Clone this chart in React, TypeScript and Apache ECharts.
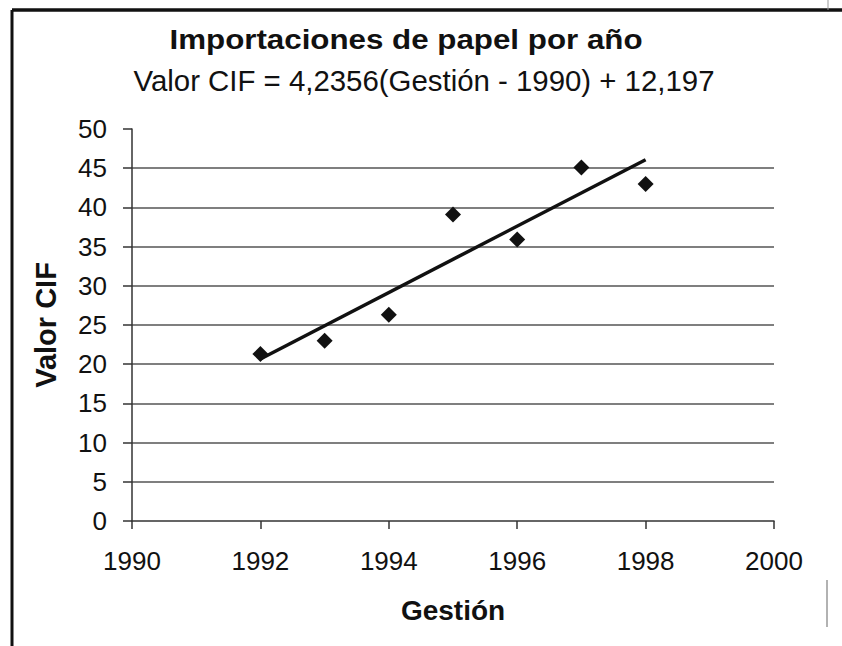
import React, { useEffect, useRef } from "react";
import * as echarts from "echarts";

const titleText = "Importaciones de papel por año";
const subtitleText = "Valor CIF = 4,2356(Gestión - 1990) + 12,197";
const xAxisName = "Gestión";
const yAxisName = "Valor CIF";

const years = [1992, 1993, 1994, 1995, 1996, 1997, 1998];
const valorCIF = [21.3, 23.0, 26.3, 39.1, 35.9, 45.1, 43.0];

const trendSlope = 4.2356;
const trendIntercept = 12.197;
const trendBaseYear = 1990;
const trendYears = [1992, 1998];

const xRange = [1990, 2000];
const xStep = 2;
const yRange = [0, 50];
const yStep = 5;

const FONT = "'Liberation Sans', Arial, sans-serif";

export default function App() {
  const ref = useRef<HTMLDivElement>(null);
  useEffect(() => {
    if (!ref.current) return;
    const chart = echarts.init(ref.current, null, { renderer: "svg" });
    const points = years.map((y, i) => [y, valorCIF[i]]);
    const trend = trendYears.map((y) => [y, trendSlope * (y - trendBaseYear) + trendIntercept]);
    chart.setOption({
      animation: false,
      backgroundColor: "#ffffff",
      textStyle: { fontFamily: FONT },
      grid: { left: 132, right: 68, top: 129, bottom: 125, containLabel: false },
      graphic: [
        { type: "line", shape: { x1: 12, y1: 10, x2: 12, y2: 646 }, style: { stroke: "#111", lineWidth: 3 } },
        { type: "line", shape: { x1: 12, y1: 10, x2: 842, y2: 10 }, style: { stroke: "#111", lineWidth: 3.5 } },
        { type: "line", shape: { x1: 828, y1: 0, x2: 828, y2: 10 }, style: { stroke: "#999", lineWidth: 1 } },
        { type: "line", shape: { x1: 827, y1: 580, x2: 827, y2: 627 }, style: { stroke: "#999", lineWidth: 1.5 } },
        {
          type: "text",
          x: 406,
          y: 40,
          scaleX: 1.16,
          style: {
            text: titleText,
            font: `bold 27px ${FONT}`,
            fill: "#111",
            align: "center",
            verticalAlign: "middle",
          },
        },
        {
          type: "text",
          x: 424,
          y: 80,
          scaleX: 0.98,
          style: {
            text: subtitleText,
            font: `30px ${FONT}`,
            fill: "#111",
            align: "center",
            verticalAlign: "middle",
          },
        },
      ],
      xAxis: {
        type: "value",
        min: xRange[0],
        max: xRange[1],
        interval: xStep,
        name: xAxisName,
        nameLocation: "middle",
        nameGap: 75,
        nameTextStyle: { fontSize: 28, fontWeight: "bold", color: "#111", fontFamily: FONT },
        axisLine: { show: true, lineStyle: { color: "#333", width: 1.5 } },
        axisTick: { show: true, inside: false, length: 8, lineStyle: { color: "#333", width: 1.5 } },
        axisLabel: {
          fontSize: 26,
          color: "#111",
          margin: 27,
          fontFamily: FONT,
          formatter: (v: number) => String(v),
        },
        splitLine: { show: false },
      },
      yAxis: {
        type: "value",
        min: yRange[0],
        max: yRange[1],
        interval: yStep,
        name: yAxisName,
        nameLocation: "middle",
        nameGap: 72,
        nameTextStyle: { fontSize: 29, fontWeight: "bold", color: "#111", fontFamily: FONT },
        axisLine: { show: true, lineStyle: { color: "#333", width: 1.5 } },
        axisTick: { show: true, inside: false, length: 9, lineStyle: { color: "#333", width: 1.5 } },
        axisLabel: { fontSize: 26, color: "#111", margin: 25, fontFamily: FONT },
        splitLine: {
          show: true,
          showMinLine: false,
          showMaxLine: false,
          lineStyle: { color: "#555", width: 1.5 },
        },
      },
      series: [
        {
          type: "scatter",
          data: points,
          symbol: "diamond",
          symbolSize: 16,
          itemStyle: { color: "#111", opacity: 1 },
          z: 3,
        },
        {
          type: "line",
          data: trend,
          symbol: "none",
          lineStyle: { color: "#111", width: 3.5 },
          z: 2,
        },
      ],
    });
    return () => chart.dispose();
  }, []);
  return (
    <div
      ref={ref}
      style={{ position: "fixed", left: 0, top: 0, width: 842, height: 646, background: "#fff" }}
    />
  );
}
